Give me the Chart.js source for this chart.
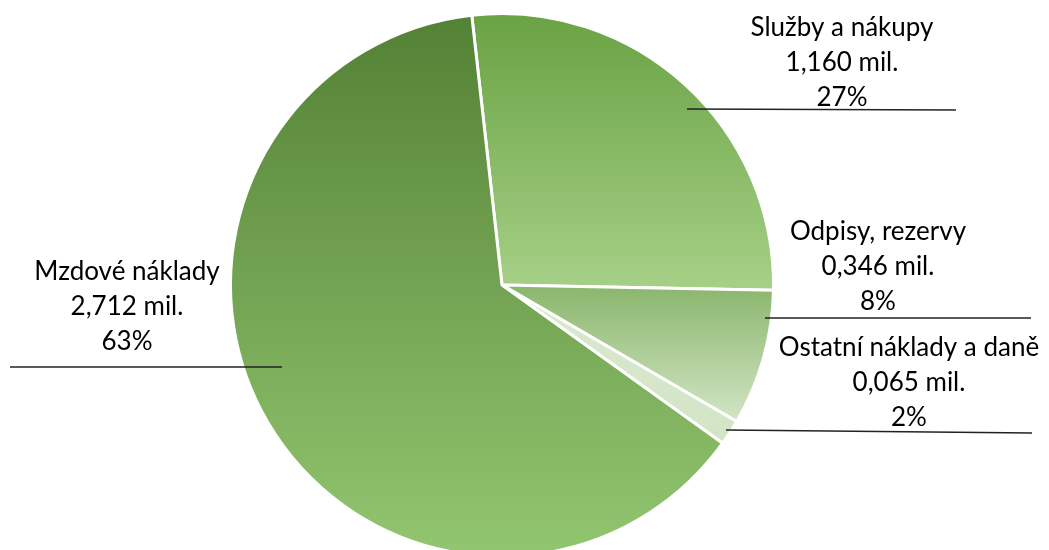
<!DOCTYPE html>
<html>
<head>
<meta charset="utf-8">
<script src="https://cdn.jsdelivr.net/npm/chart.js@4"></script>
<style>
  html, body { margin: 0; padding: 0; background: #fff; overflow: hidden; }
  #wrap { width: 1049px; height: 550px; overflow: hidden; }
</style>
</head>
<body>
<div id="wrap"><canvas id="pie" width="1049" height="570"></canvas></div>
<script>
const categories = ['Služby a nákupy', 'Odpisy, rezervy', 'Ostatní náklady a daně', 'Mzdové náklady'];
const values = [1.160, 0.346, 0.065, 2.712];
const unit = 'mil.';

// top / bottom colour of each slice's gradient
const topColors = ['#69a243', '#8ab66c', '#dae9d0', '#538135'];
const bottomColors = ['#a6d087', '#d3e5c6', '#d3e4c6', '#93c670'];

// where each label block sits (centre x, first line y) and its leader line
const labelLayout = [
    { x: 842, y: 28, line: [687, 109, 956, 110] },
    { x: 878, y: 232, line: [765, 318, 1031, 318] },
    { x: 909, y: 348, line: [726, 430, 1032, 433] },
    { x: 127, y: 272, line: [10, 367, 282, 367] }
];

const ROTATION = -6.4;
const total = values.reduce((a, b) => a + b, 0);

function fmt(v) {
    return v.toFixed(3).replace('.', ',') + ' ' + unit;
}

function sliceGradient(context) {
    const chart = context.chart;
    const area = chart.chartArea;
    const i = context.dataIndex;
    if (!area || i === undefined) return topColors[i] || '#7aa85a';
    const cx = (area.left + area.right) / 2;
    const cy = (area.top + area.bottom) / 2;
    const r = Math.min(area.right - area.left, area.bottom - area.top) / 2;
    let before = 0;
    for (let k = 0; k < i; k++) before += values[k];
    const start = (ROTATION - 90) * Math.PI / 180 + before / total * Math.PI * 2;
    const end = start + values[i] / total * Math.PI * 2;
    let minY = cy, maxY = cy;
    for (let s = 0; s <= 60; s++) {
        const a = start + (end - start) * s / 60;
        const y = cy + r * Math.sin(a);
        minY = Math.min(minY, y);
        maxY = Math.max(maxY, y);
    }
    const g = chart.ctx.createLinearGradient(0, minY, 0, maxY);
    g.addColorStop(0, topColors[i]);
    g.addColorStop(1, bottomColors[i]);
    return g;
}

const labelPlugin = {
    id: 'leaderLabels',
    afterDraw(chart) {
        const ctx = chart.ctx;
        ctx.save();
        ctx.font = '26px Lato';
        ctx.fillStyle = '#000';
        ctx.textAlign = 'center';
        ctx.textBaseline = 'middle';
        labelLayout.forEach((l, i) => {
            const pct = Math.round(values[i] / total * 100) + '%';
            const lines = [categories[i], fmt(values[i]), pct];
            lines.forEach((t, j) => ctx.fillText(t, l.x, l.y + j * 35));
            ctx.beginPath();
            ctx.strokeStyle = '#222';
            ctx.lineWidth = 1.3;
            ctx.moveTo(l.line[0], l.line[1]);
            ctx.lineTo(l.line[2], l.line[3]);
            ctx.stroke();
        });
        ctx.restore();
    }
};

new Chart(document.getElementById('pie'), {
    type: 'pie',
    data: {
        labels: categories,
        datasets: [{
            data: values,
            backgroundColor: sliceGradient,
            borderColor: '#ffffff',
            borderWidth: 3
        }]
    },
    options: {
        responsive: false,
        animation: false,
        rotation: ROTATION,
        layout: { padding: { left: 0, right: 45, top: 12, bottom: 12 } },
        plugins: {
            legend: { display: false },
            tooltip: { enabled: false }
        }
    },
    plugins: [labelPlugin]
});
</script>
</body>
</html>
